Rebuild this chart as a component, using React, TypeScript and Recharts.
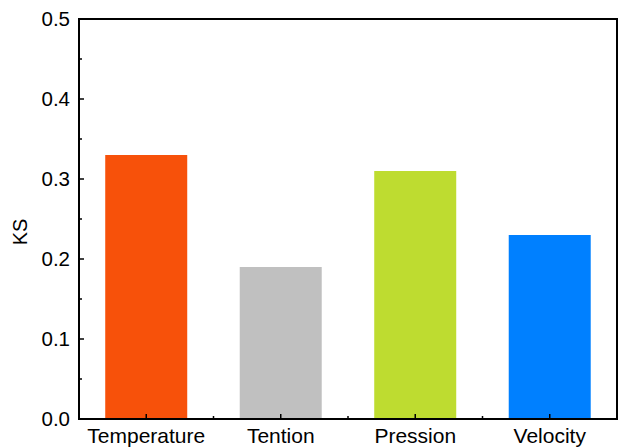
import { BarChart, Bar, XAxis, YAxis, Cell, ReferenceArea } from 'recharts'

const categories = ['Temperature', 'Tention', 'Pression', 'Velocity']
const ksValues = [0.33, 0.19, 0.31, 0.23]
const barColors = ['#F7510A', '#C0C0C0', '#BEDC30', '#0080FF']
const yTicks = [0, 0.05, 0.1, 0.15, 0.2, 0.25, 0.3, 0.35, 0.4, 0.45, 0.5]

const data = categories.map((name, i) => ({ name, ks: ksValues[i] }))

const FONT = 'Liberation Sans, Arial, sans-serif'

function XTick(props: any) {
  const { x, y, payload, index } = props
  const half = payload.offset || 0
  return (
    <g>
      <line x1={x} y1={y} x2={x} y2={y - 5} stroke="#000" strokeWidth={1.5} />
      <line x1={x - half} y1={y} x2={x - half} y2={y - 3} stroke="#000" strokeWidth={1.5} />
      {index === categories.length - 1 && (
        <line x1={x + half} y1={y} x2={x + half} y2={y - 3} stroke="#000" strokeWidth={1.5} />
      )}
      <text x={x} y={y + 24} textAnchor="middle" fontSize={21} fontFamily={FONT} fill="#000">
        {payload.value}
      </text>
    </g>
  )
}

function YTick(props: any) {
  const { x, y, payload } = props
  const major = Math.round(payload.value * 100) % 10 === 0
  return (
    <g>
      <line x1={x} y1={y} x2={x + (major ? 5 : 3)} y2={y} stroke="#000" strokeWidth={1.5} />
      {major && (
        <text x={x - 9} y={y + 7} textAnchor="end" fontSize={20.5} fontFamily={FONT} fill="#000">
          {payload.value.toFixed(1)}
        </text>
      )}
    </g>
  )
}

export default function App() {
  return (
    <div style={{ position: 'absolute', left: 0, top: 0, background: '#fff' }}>
      <BarChart
        width={618}
        height={447}
        data={data}
        margin={{ top: 19, right: 1, bottom: 0, left: 0 }}
        barCategoryGap="19.5%"
      >
        <XAxis
          dataKey="name"
          height={28}
          tickLine={false}
          tickSize={0}
          tickMargin={0}
          tick={<XTick />}
          axisLine={{ stroke: '#000', strokeWidth: 2 }}
          interval={0}
        />
        <YAxis
          width={79}
          domain={[0, 0.5]}
          ticks={yTicks}
          interval={0}
          tickLine={false}
          tickSize={0}
          tickMargin={0}
          tick={<YTick />}
          axisLine={{ stroke: '#000', strokeWidth: 2 }}
          label={{ value: 'KS', angle: -90, position: 'insideLeft', offset: 20, dy: 13, style: { fontSize: 20, fontFamily: FONT, fill: '#000', textAnchor: 'middle' } }}
        />
        <Bar dataKey="ks" isAnimationActive={false}>
          {data.map((d, i) => (
            <Cell key={d.name} fill={barColors[i]} />
          ))}
        </Bar>
        <ReferenceArea y1={0} y2={0.5} fill="none" stroke="#000" strokeWidth={2} ifOverflow="visible" />
      </BarChart>
    </div>
  )
}
